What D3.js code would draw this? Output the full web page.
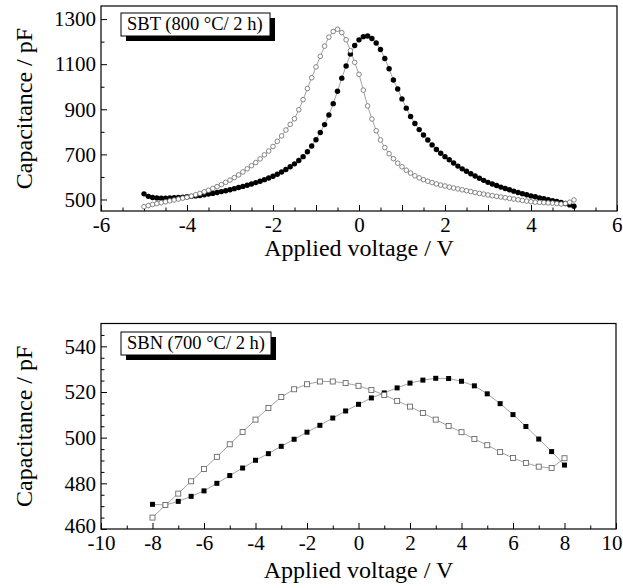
<!DOCTYPE html>
<html lang="en">
<head>
    <meta charset="UTF-8">
    <title>C-V curves</title>
    <script src="https://cdn.jsdelivr.net/npm/d3@7"></script>
    <style>
        body{
            margin: 0;
            background-color: #ffffff;
        }
        svg text{
            font-family: "Liberation Serif", "Times New Roman", serif;
            fill: #000000;
        }
    </style>
</head>
<body>
<div id="chart"></div>
<script>
    // SBT (800 C / 2 h), sweep -5 V .. 5 V
    var SBT_VOLTAGE = [-5,-4.9,-4.8,-4.7,-4.6,-4.5,-4.4,-4.3,-4.2,-4.1,-4,-3.9,-3.8,-3.7,-3.6,-3.5,-3.4,-3.3,-3.2,-3.1,
        -3,-2.9,-2.8,-2.7,-2.6,-2.5,-2.4,-2.3,-2.2,-2.1,-2,-1.9,-1.8,-1.7,-1.6,-1.5,-1.4,-1.3,-1.2,-1.1,
        -1,-0.9,-0.8,-0.7,-0.6,-0.5,-0.4,-0.3,-0.2,-0.1,0,0.1,0.2,0.3,0.4,0.5,0.6,0.7,0.8,0.9,
        1,1.1,1.2,1.3,1.4,1.5,1.6,1.7,1.8,1.9,2,2.1,2.2,2.3,2.4,2.5,2.6,2.7,2.8,2.9,
        3,3.1,3.2,3.3,3.4,3.5,3.6,3.7,3.8,3.9,4,4.1,4.2,4.3,4.4,4.5,4.6,4.7,4.8,4.9,5];
    var SBT_FILLED = [525,514,509,507,506,506,507,508,509,510,512,514,516,518,521,524,527,531,535,539,
        543,548,553,558,563,569,575,581,588,595,603,612,622,633,645,658,673,690,712,737,
        765,797,832,875,925,980,1038,1092,1145,1183,1208,1222,1225,1214,1194,1165,1125,1080,1030,990,
        946,905,868,837,810,786,764,742,722,705,690,676,662,648,636,625,614,604,594,585,
        576,569,562,555,549,543,537,531,526,521,516,512,507,503,499,495,491,487,482,476,470];
    var SBT_OPEN = [468,473,478,482,486,490,494,498,502,506,510,515,521,527,534,541,549,557,566,576,
        586,597,609,622,636,650,664,680,698,715,735,758,782,808,833,858,898,943,992,1040,
        1088,1135,1180,1220,1245,1255,1240,1208,1160,1108,1055,985,915,857,805,764,730,703,681,661,
        645,630,617,605,596,588,581,575,569,564,560,555,551,547,543,539,535,531,527,524,
        520,517,514,511,508,505,502,499,496,493,490,488,487,486,485,484,482,480,482,488,498];

    // SBN (700 C / 2 h), sweep -8 V .. 8 V
    var SBN_VOLTAGE = [-8,-7.5,-7,-6.5,-6,-5.5,-5,-4.5,-4,-3.5,-3,-2.5,-2,-1.5,-1,-0.5,0,
        0.5,1,1.5,2,2.5,3,3.5,4,4.5,5,5.5,6,6.5,7,7.5,8];
    var SBN_FILLED = [470.8,470.5,472.1,474.3,476.7,480.0,483.4,486.7,490.1,493.0,496.2,499.3,502.4,505.4,508.6,511.7,514.6,
        517.4,519.6,521.8,523.9,525.2,526.0,525.9,524.7,522.7,519.2,514.9,510.1,504.9,499.4,493.9,488.0];
    var SBN_OPEN = [465.0,470.5,475.5,480.9,486.3,491.6,497.1,502.5,507.9,513.0,517.8,521.2,523.4,524.6,524.6,523.9,522.7,
        520.9,518.7,516.1,513.6,510.8,507.9,505.1,502.4,499.4,496.7,493.7,491.1,488.9,487.3,486.7,491.0];

    var TOP_Y_LABELS = [500, 700, 900, 1100, 1300];
    var TOP_X_LABELS = [-6, -4, -2, 0, 2, 4, 6];
    var BOTTOM_Y_LABELS = [460, 480, 500, 520, 540];
    var BOTTOM_X_LABELS = [-10, -8, -6, -4, -2, 0, 2, 4, 6, 8, 10];

    var WIDTH = 623;
    var HEIGHT = 588;
    var LINE_COLOR = "#8c8c8c";
    var OPEN_STROKE = "#6a6a6a";

    var svg = d3.select("#chart").append("svg")
        .attr("width", WIDTH)
        .attr("height", HEIGHT);

    drawPanel({
        left: 101, right: 617, top: 6, bottom: 211,
        xDomain: [-6, 6], yDomain: [449, 1358],
        xMinorStep: 0.5, xMidStep: 1, xLabels: TOP_X_LABELS,
        yMinorStep: 100, yLabels: TOP_Y_LABELS,
        voltage: SBT_VOLTAGE, filled: SBT_FILLED, open: SBT_OPEN,
        marker: "circle",
        legend: "SBT (800 \u00B0C/ 2 h)", legendBox: [121, 13, 149, 23],
        xTitleY: 256
    });

    drawPanel({
        left: 101, right: 616, top: 323.5, bottom: 529,
        xDomain: [-10, 10], yDomain: [460, 550],
        xMinorStep: 1, xMidStep: 2, xLabels: BOTTOM_X_LABELS,
        yMinorStep: 5, yLabels: BOTTOM_Y_LABELS,
        voltage: SBN_VOLTAGE, filled: SBN_FILLED, open: SBN_OPEN,
        marker: "square",
        legend: "SBN (700 \u00B0C/ 2 h)", legendBox: [121, 332, 150, 23],
        xTitleY: 578
    });

    function drawPanel(p){
        var g = svg.append("g");

        var x = d3.scaleLinear().domain(p.xDomain).range([p.left, p.right]);
        var y = d3.scaleLinear().domain(p.yDomain).range([p.bottom, p.top]);

        // x axis, ticks pointing inwards
        var xTicks = d3.range(p.xDomain[0], p.xDomain[1] + 1e-9, p.xMinorStep).map(function(v){
            return Math.round(v * 100) / 100;
        });
        var xAxis = d3.axisBottom(x)
            .tickValues(xTicks)
            .tickSize(-6)
            .tickPadding(6)
            .tickFormat(function(d){
                return p.xLabels.indexOf(d) > -1 ? String(d) : "";
            });
        var xg = g.append("g")
            .attr("transform", "translate(0," + p.bottom + ")")
            .call(xAxis);
        xg.selectAll(".tick line")
            .attr("y2", function(d){
                return Math.abs(d / p.xMidStep - Math.round(d / p.xMidStep)) < 1e-6 ? -6 : -3.5;
            });
        // keep the last label inside the picture
        xg.selectAll(".tick text")
            .filter(function(d){ return d === p.xDomain[1]; })
            .attr("text-anchor", "end")
            .attr("x", 623 - p.right - 1);

        // y axis
        var yStart = Math.ceil(p.yDomain[0] / p.yMinorStep) * p.yMinorStep;
        var yTicks = d3.range(yStart, p.yDomain[1], p.yMinorStep);
        var yAxis = d3.axisLeft(y)
            .tickValues(yTicks)
            .tickSize(-6)
            .tickPadding(5)
            .tickFormat(function(d){
                return p.yLabels.indexOf(d) > -1 ? d : "";
            });
        var yg = g.append("g")
            .attr("transform", "translate(" + p.left + ",0)")
            .call(yAxis);
        yg.selectAll(".tick line")
            .attr("x2", function(d){
                return p.yLabels.indexOf(d) > -1 ? 6 : 3.5;
            });
        // lowest label sits a little higher so it clears the x labels
        yg.selectAll(".tick text")
            .filter(function(d){ return d === p.yDomain[0]; })
            .attr("y", -3);

        [xg, yg].forEach(function(a){
            a.select(".domain").remove();
            a.selectAll(".tick line").attr("stroke", "#000").attr("stroke-width", 1);
            a.selectAll(".tick text")
                .style("font-size", "21px")
                .attr("fill", "#000");
        });

        // frame
        g.append("rect")
            .attr("x", p.left)
            .attr("y", p.top)
            .attr("width", p.right - p.left)
            .attr("height", p.bottom - p.top)
            .attr("fill", "none")
            .attr("stroke", "#000")
            .attr("stroke-width", 1.2);

        // axis titles
        g.append("text")
            .text("Applied voltage / V")
            .attr("x", (p.left + p.right) / 2)
            .attr("y", p.xTitleY)
            .attr("text-anchor", "middle")
            .style("font-size", "24px");

        g.append("text")
            .text("Capacitance / pF")
            .attr("transform", "translate(32," + ((p.top + p.bottom) / 2) + ") rotate(-90)")
            .attr("text-anchor", "middle")
            .style("font-size", "24px");

        // curves
        var line = d3.line()
            .x(function(d){ return x(d[0]); })
            .y(function(d){ return y(d[1]); });

        var filledPts = p.voltage.map(function(v, i){ return [v, p.filled[i]]; });
        var openPts = p.voltage.map(function(v, i){ return [v, p.open[i]]; });

        [filledPts, openPts].forEach(function(pts){
            g.append("path")
                .datum(pts)
                .attr("d", line)
                .attr("fill", "none")
                .attr("stroke", LINE_COLOR)
                .attr("stroke-width", 0.8);
        });

        if (p.marker === "circle"){
            g.selectAll("circle.filled").data(filledPts).enter().append("circle")
                .attr("class", "filled")
                .attr("cx", function(d){ return x(d[0]); })
                .attr("cy", function(d){ return y(d[1]); })
                .attr("r", 2.7)
                .attr("fill", "#000");
            g.selectAll("circle.open").data(openPts).enter().append("circle")
                .attr("class", "open")
                .attr("cx", function(d){ return x(d[0]); })
                .attr("cy", function(d){ return y(d[1]); })
                .attr("r", 2.3)
                .attr("fill", "#fff")
                .attr("stroke", OPEN_STROKE)
                .attr("stroke-width", 0.8);
        } else {
            var s = 5;
            g.selectAll("rect.filled").data(filledPts).enter().append("rect")
                .attr("class", "filled")
                .attr("x", function(d){ return x(d[0]) - s / 2; })
                .attr("y", function(d){ return y(d[1]) - s / 2; })
                .attr("width", s)
                .attr("height", s)
                .attr("fill", "#000");
            g.selectAll("rect.open").data(openPts).enter().append("rect")
                .attr("class", "open")
                .attr("x", function(d){ return x(d[0]) - s / 2; })
                .attr("y", function(d){ return y(d[1]) - s / 2; })
                .attr("width", s)
                .attr("height", s)
                .attr("fill", "#fff")
                .attr("stroke", OPEN_STROKE)
                .attr("stroke-width", 0.9);
        }

        // legend box with drop shadow
        var b = p.legendBox;
        g.append("rect")
            .attr("x", b[0] + 5).attr("y", b[1] + 5)
            .attr("width", b[2]).attr("height", b[3])
            .attr("fill", "#000");
        g.append("rect")
            .attr("x", b[0]).attr("y", b[1])
            .attr("width", b[2]).attr("height", b[3])
            .attr("fill", "#fff")
            .attr("stroke", "#000")
            .attr("stroke-width", 1);
        g.append("text")
            .text(p.legend)
            .attr("x", b[0] + 6)
            .attr("y", b[1] + 17)
            .style("font-size", "18.5px");
    }
</script>
</body>
</html>
